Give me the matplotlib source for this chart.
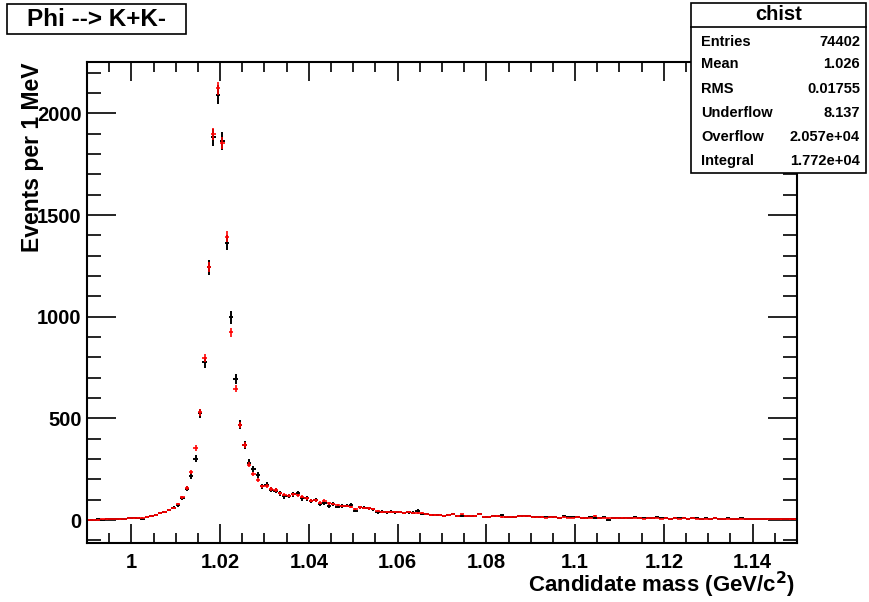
import numpy as np
import matplotlib
matplotlib.use('Agg')
import matplotlib.pyplot as plt
from matplotlib.patches import Rectangle
from matplotlib.ticker import MultipleLocator

plt.rcParams['font.family'] = ['Liberation Sans', 'DejaVu Sans']
plt.rcParams['font.weight'] = 'bold'

# bin edges: 1 MeV bins from 0.99 to 1.15 GeV
edges = np.round(np.arange(0.990, 1.1505, 0.001), 4)
centers = 0.5 * (edges[:-1] + edges[1:])

# black histogram (counts per bin)
black_counts = [
    2, 2, 3, 2, 3, 5, 6, 3, 5, 9,
    10, 10, 3, 16, 18, 26, 33, 40, 49, 60,
    75, 108, 155, 217, 301, 525, 776, 1242, 1882, 2092,
    1863, 1364, 997, 694, 469, 368, 282, 250, 222, 165,
    174, 149, 145, 131, 116, 119, 126, 131, 106, 106,
    95, 98, 77, 82, 69, 78, 65, 69, 70, 75,
    46, 62, 60, 57, 52, 38, 41, 38, 41, 38,
    39, 33, 38, 36, 46, 28, 28, 25, 25, 25,
    20, 25, 31, 20, 20, 21, 21, 20, 28, 16,
    16, 18, 20, 26, 16, 16, 16, 18, 18, 18,
    15, 14, 17, 13, 16, 15, 12, 20, 14, 13,
    15, 12, 10, 14, 11, 9, 13, 0, 11, 10,
    12, 9, 11, 14, 10, 8, 9, 10, 13, 8,
    9, 7, 10, 8, 12, 7, 9, 8, 6, 8,
    7, 10, 6, 7, 9, 5, 6, 8, 5, 7,
    6, 5, 7, 4, 5, 6, 4, 5, 4, 4,
]

# red histogram (overlaid)
red_counts = [
    2, 2, 2, 3, 3, 4, 5, 3, 5, 8,
    9, 11, 12, 15, 19, 25, 34, 38, 48, 58,
    78, 112, 157, 236, 355, 530, 796, 1245, 1899, 2124,
    1855, 1394, 923, 645, 466, 370, 272, 227, 195, 165,
    167, 152, 147, 131, 124, 119, 126, 122, 114, 108,
    96, 98, 85, 95, 82, 78, 75, 69, 68, 65,
    52, 62, 60, 57, 52, 44, 41, 38, 41, 38,
    39, 33, 38, 36, 33, 36, 28, 25, 25, 25,
    20, 25, 28, 20, 28, 21, 21, 20, 28, 16,
    16, 18, 20, 15, 16, 16, 16, 18, 18, 18,
    14, 13, 15, 12, 14, 13, 11, 14, 12, 12,
    13, 11, 9, 12, 20, 9, 11, 8, 10, 9,
    11, 8, 10, 12, 9, 7, 9, 9, 10, 7,
    8, 6, 9, 7, 9, 6, 8, 7, 5, 7,
    6, 8, 5, 6, 7, 4, 5, 6, 4, 5,
    5, 4, 5, 3, 4, 4, 3, 4, 3, 3,
]

black_counts = np.array(black_counts, dtype=float)
red_counts = np.array(red_counts, dtype=float)
black_err = np.sqrt(black_counts)
red_err = 0.7 * np.sqrt(red_counts)
half_bin = 0.0005

fig = plt.figure(figsize=(8.69, 6.02), dpi=100)
ax = fig.add_axes([0.1001, 0.098, 0.817, 0.7995])

ax.errorbar(centers, black_counts, xerr=half_bin, yerr=black_err, fmt='none',
            ecolor='black', elinewidth=1.4, capsize=0)
ax.errorbar(centers, red_counts, xerr=half_bin, yerr=red_err, fmt='none',
            ecolor='red', elinewidth=1.4, capsize=0, alpha=0.85)

ax.set_xlim(0.99, 1.15)
ax.set_ylim(-113, 2254)

ax.xaxis.set_major_locator(MultipleLocator(0.02))
ax.xaxis.set_minor_locator(MultipleLocator(0.005))
ax.yaxis.set_major_locator(MultipleLocator(500))
ax.yaxis.set_minor_locator(MultipleLocator(100))
ax.set_xticks([1.0, 1.02, 1.04, 1.06, 1.08, 1.1, 1.12, 1.14])
ax.set_xticklabels(['1', '1.02', '1.04', '1.06', '1.08', '1.1', '1.12', '1.14'])

ax.tick_params(axis='both', which='both', direction='in', top=True, right=True,
               labelsize=14.5, width=1.2)
ax.tick_params(axis='x', which='major', length=14, pad=7)
ax.tick_params(axis='x', which='minor', length=7)
ax.tick_params(axis='y', which='major', length=21, pad=4)
ax.tick_params(axis='y', which='minor', length=10)
for lab in ax.get_xticklabels() + ax.get_yticklabels():
    lab.set_fontweight('bold')
for sp in ax.spines.values():
    sp.set_linewidth(1.5)

fig.text(0.915, 0.028, 'Candidate mass (GeV/c$^{\\mathbf{2}}$)', ha='right', va='center',
         fontsize=16, fontweight='bold')
fig.text(0.0375, 0.897, 'Events per 1 MeV', rotation=90, ha='center', va='top',
         fontsize=16.5, fontweight='bold')

# title box
fig.add_artist(Rectangle((0.008, 0.9435), 0.206, 0.05, transform=fig.transFigure,
                         facecolor='white', edgecolor='black', linewidth=1.2, zorder=5))
fig.text(0.111, 0.968, 'Phi --> K+K-', ha='center', va='center', fontsize=17.5,
         fontweight='bold', zorder=6)

# stats box
stat_names = ['Entries', 'Mean', 'RMS', 'Underflow', 'Overflow', 'Integral']
stat_values = ['74402', '1.026', '0.01755', '8.137', '2.057e+04', '1.772e+04']
bx0, bx1 = 691 / 869, 866 / 869
by0, by1 = 1 - 173 / 602, 1 - 3 / 602
fig.add_artist(Rectangle((bx0, by0), bx1 - bx0, by1 - by0, transform=fig.transFigure,
                         facecolor='white', edgecolor='black', linewidth=1.2, zorder=5))
sep = 1 - 27 / 602
fig.add_artist(plt.Line2D([bx0, bx1], [sep, sep], transform=fig.transFigure,
                          color='black', linewidth=1.2, zorder=6))
fig.text((bx0 + bx1) / 2, 1 - 15 / 602, 'chist', ha='center', va='center',
         fontsize=14.5, fontweight='bold', zorder=7)
row_y = [42, 64, 89, 113, 137, 161]
for name, val, ry in zip(stat_names, stat_values, row_y):
    fig.text(701 / 869, 1 - ry / 602, name, ha='left', va='center', fontsize=10.5,
             fontweight='bold', zorder=7)
    fig.text(860 / 869, 1 - ry / 602, val, ha='right', va='center', fontsize=10.5,
             fontweight='bold', zorder=7)

fig.savefig('out.png', dpi=100)
